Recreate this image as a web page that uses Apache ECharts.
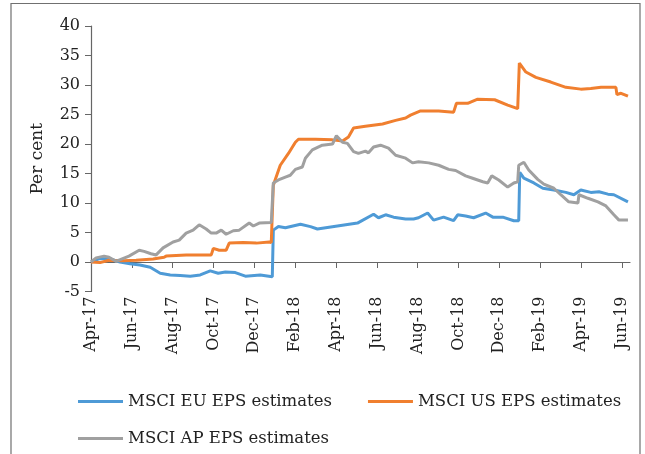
<!DOCTYPE html>
<html>
<head>
<meta charset="utf-8">
<script src="https://cdn.jsdelivr.net/npm/echarts@6/dist/echarts.min.js"></script>
<style>
  html, body { margin: 0; background: #fff; }
  #chart { width: 645px; height: 454px; }
</style>
</head>
<body>
<div id="chart"></div>
<script>
// x values are months since Apr-17
const monthLabels = ["Apr-17", "Jun-17", "Aug-17", "Oct-17", "Dec-17", "Feb-18", "Apr-18",
  "Jun-18", "Aug-18", "Oct-18", "Dec-18", "Feb-19", "Apr-19", "Jun-19"];
const yTicks = [-5, 0, 5, 10, 15, 20, 25, 30, 35, 40];

const euEps = [
  [0, 0], [0.44, 0.6], [0.93, 0.5], [1.42, 0], [1.91, -0.3], [2.4, -0.5], [2.9, -0.9], [3.39, -1.9],
  [3.88, -2.2], [4.37, -2.3], [4.86, -2.4], [5.35, -2.2], [5.84, -1.5], [6.23, -1.9], [6.58, -1.7],
  [7.07, -1.8], [7.56, -2.4], [8.29, -2.2], [8.88, -2.5], [8.93, 5.4], [9.18, 6.0], [9.52, 5.8],
  [10.26, 6.4], [10.75, 6.0], [11.09, 5.6], [12.07, 6.1], [13.05, 6.6], [13.84, 8.1], [14.08, 7.5],
  [14.43, 8.0], [14.82, 7.6], [15.41, 7.3], [15.8, 7.3], [16.04, 7.5], [16.49, 8.3], [16.78, 7.1],
  [17.27, 7.6], [17.76, 7.0], [17.96, 8.0], [18.35, 7.8], [18.74, 7.5], [19.33, 8.3], [19.68, 7.6],
  [20.17, 7.6], [20.71, 7.0], [20.95, 7.0], [21.0, 15.2], [21.2, 14.2], [21.69, 13.4], [22.13, 12.5],
  [22.67, 12.2], [23.26, 11.8], [23.65, 11.4], [23.99, 12.2], [24.48, 11.8], [24.88, 11.9],
  [25.32, 11.5], [25.61, 11.4], [26.3, 10.2]
];

const usEps = [
  [0, 0], [0.44, -0.1], [0.88, 0.3], [1.57, 0.2], [2.21, 0.3], [3.04, 0.5], [3.58, 0.8], [3.68, 1.0],
  [4.66, 1.2], [5.89, 1.2], [5.99, 2.3], [6.28, 2.0], [6.62, 2.0], [6.77, 3.2], [7.46, 3.3],
  [8.1, 3.2], [8.73, 3.4], [8.83, 3.3], [8.93, 13.0], [9.18, 15.5], [9.27, 16.4], [9.67, 18.4],
  [10.01, 20.3], [10.16, 20.8], [10.99, 20.8], [11.83, 20.7], [12.32, 20.5], [12.61, 21.2],
  [12.86, 22.7], [13.44, 23.0], [14.28, 23.4], [14.92, 24.0], [15.41, 24.4], [15.65, 24.9],
  [16.14, 25.6], [17.03, 25.6], [17.76, 25.4], [17.9, 26.9], [18.45, 26.9], [18.94, 27.6],
  [19.77, 27.5], [20.41, 26.6], [20.9, 26.0], [20.98, 33.7], [21.3, 32.2], [21.79, 31.3],
  [22.52, 30.5], [23.26, 29.6], [23.99, 29.3], [24.48, 29.4], [24.98, 29.6], [25.71, 29.6],
  [25.76, 28.4], [25.96, 28.6], [26.3, 28.1]
];

const apEps = [
  [0, 0], [0.25, 0.7], [0.64, 1.0], [0.88, 0.8], [1.23, 0.1], [1.37, 0.3], [1.86, 1.0], [2.36, 2.0],
  [2.6, 1.8], [2.94, 1.4], [3.19, 1.2], [3.53, 2.4], [4.02, 3.4], [4.32, 3.7], [4.66, 4.9],
  [5.0, 5.4], [5.3, 6.3], [5.64, 5.6], [5.89, 4.9], [6.13, 4.9], [6.38, 5.4], [6.62, 4.7],
  [6.97, 5.3], [7.26, 5.4], [7.75, 6.6], [7.95, 6.1], [8.24, 6.6], [8.83, 6.7], [8.93, 13.4],
  [9.18, 13.9], [9.52, 14.4], [9.76, 14.7], [10.01, 15.7], [10.35, 16.1], [10.5, 17.6],
  [10.84, 19.0], [11.33, 19.8], [11.83, 20.0], [12.02, 21.4], [12.32, 20.3], [12.56, 20.1],
  [12.86, 18.7], [13.1, 18.4], [13.44, 18.8], [13.59, 18.5], [13.84, 19.5], [14.18, 19.8],
  [14.57, 19.3], [14.92, 18.1], [15.41, 17.6], [15.75, 16.8], [16.04, 17.0], [16.54, 16.8],
  [17.03, 16.4], [17.52, 15.7], [17.86, 15.5], [18.35, 14.6], [18.69, 14.2], [19.19, 13.6],
  [19.43, 13.4], [19.63, 14.6], [19.97, 13.9], [20.41, 12.7], [20.71, 13.4], [20.9, 13.6],
  [20.95, 16.4], [21.2, 16.9], [21.44, 15.6], [21.88, 14.0], [22.18, 13.2], [22.67, 12.5],
  [23.01, 11.4], [23.4, 10.2], [23.85, 10.0], [23.9, 11.4], [24.34, 10.8], [24.83, 10.2],
  [25.22, 9.5], [25.61, 8.0], [25.86, 7.1], [26.3, 7.1]
];

const seriesNames = ["MSCI EU EPS estimates", "MSCI US EPS estimates", "MSCI AP EPS estimates"];
const seriesColors = ["#4e9ad6", "#f07f2f", "#a0a0a0"];

const FONT = "DejaVu Serif";
const AXIS_COLOR = "#666";
const tickValues = monthLabels.map((_, i) => i * 2);

const chart = echarts.init(document.getElementById("chart"));

function lineSeries(name, data, color) {
  return {
    name,
    type: "line",
    data,
    showSymbol: false,
    color,
    lineStyle: { width: 3, color },
  };
}

const legendBase = {
  icon: "rect",
  itemWidth: 45,
  itemHeight: 3,
  itemGap: 36,
  textStyle: { fontFamily: FONT, fontSize: 16.5, color: "#222" },
};

chart.setOption({
  animation: false,
  grid: { left: 91, right: 15, top: 26, bottom: 162.5 },
  graphic: [{
    type: "rect",
    shape: { x: 11, y: 3.5, width: 629, height: 470 },
    style: { fill: "none", stroke: "#707070", lineWidth: 1.2 },
  }],
  legend: [
    { ...legendBase, data: seriesNames.slice(0, 2), left: 73, top: 388 },
    { ...legendBase, data: seriesNames.slice(2), left: 73, top: 425 },
  ],
  xAxis: [
    {
      type: "value",
      min: 0,
      max: 26.4,
      axisLine: { onZero: true, lineStyle: { color: AXIS_COLOR, width: 1.2 } },
      axisTick: { customValues: tickValues, length: 6, lineStyle: { color: AXIS_COLOR } },
      axisLabel: { show: false },
      splitLine: { show: false },
    },
    {
      type: "value",
      min: 0,
      max: 26.4,
      position: "bottom",
      axisLine: { show: false, onZero: false },
      axisTick: { show: false },
      splitLine: { show: false },
      axisLabel: {
        customValues: tickValues,
        rotate: 90,
        margin: 5,
        fontFamily: FONT,
        fontSize: 16,
        color: "#222",
        formatter: (v) => monthLabels[Math.round(v / 2)],
      },
    },
  ],
  yAxis: {
    type: "value",
    min: -5,
    max: 40,
    interval: 5,
    name: "Per cent",
    nameLocation: "middle",
    nameGap: 45,
    nameTextStyle: { fontFamily: FONT, fontSize: 17, color: "#222" },
    axisLine: { show: true, lineStyle: { color: AXIS_COLOR, width: 1.2 } },
    axisTick: { show: true, length: 6, lineStyle: { color: AXIS_COLOR } },
    axisLabel: {
      margin: 11,
      fontFamily: FONT,
      fontSize: 16,
      color: "#222",
      formatter: (v) => (yTicks.includes(v) ? String(v) : ""),
    },
    splitLine: { show: false },
  },
  series: [
    lineSeries(seriesNames[0], euEps, seriesColors[0]),
    lineSeries(seriesNames[1], usEps, seriesColors[1]),
    lineSeries(seriesNames[2], apEps, seriesColors[2]),
  ],
});
</script>
</body>
</html>
